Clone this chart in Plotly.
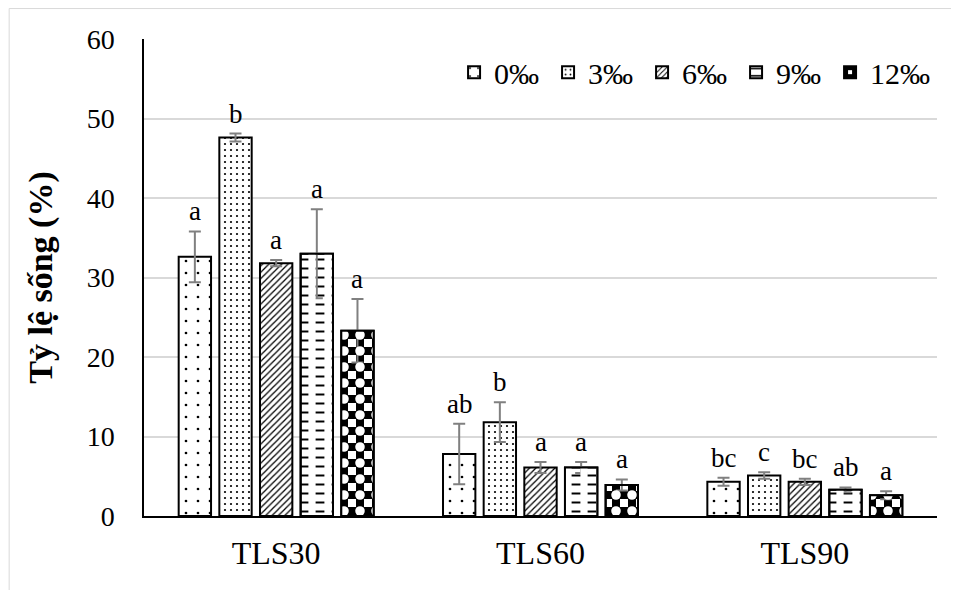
import plotly.graph_objects as go

categories = ["TLS30", "TLS60", "TLS90"]
series_names = ["0‰", "3‰", "6‰", "9‰", "12‰"]

mean_0 = [32.6, 7.8, 4.3]
mean_3 = [47.6, 11.8, 5.1]
mean_6 = [31.8, 6.1, 4.3]
mean_9 = [33.0, 6.1, 3.3]
mean_12 = [23.3, 3.9, 2.6]

err_0 = [3.2, 3.8, 0.5]
err_3 = [0.5, 2.5, 0.4]
err_6 = [0.4, 0.7, 0.4]
err_9 = [5.6, 0.7, 0.3]
err_12 = [4.0, 0.7, 0.5]

letters_0 = ["a", "ab", "bc"]
letters_3 = ["b", "b", "c"]
letters_6 = ["a", "a", "bc"]
letters_9 = ["a", "a", "ab"]
letters_12 = ["a", "a", "a"]

y_ticks = [0, 10, 20, 30, 40, 50, 60]

means = [mean_0, mean_3, mean_6, mean_9, mean_12]
errs = [err_0, err_3, err_6, err_9, err_12]
letters = [letters_0, letters_3, letters_6, letters_9, letters_12]

FONT = "Liberation Serif"
BARGAP = 0.231
BARGROUPGAP = 0.204

W, H = 951, 582
ML, MR, MT, MB = 135.5, 21.5, 31, 73.5
PW, PH = W - ML - MR, H - MT - MB

patterns = [
    dict(shape=".", size=12, solidity=0.04, fgcolor="black", bgcolor="white", fgopacity=1),
    dict(shape=".", size=6, solidity=0.11, fgcolor="black", bgcolor="white", fgopacity=1),
    dict(shape="/", size=4.5, solidity=0.28, fgcolor="black", bgcolor="white", fgopacity=1),
    dict(shape="-", size=9, solidity=0.22, fgcolor="black", bgcolor="white", fgopacity=1),
    dict(shape="+", size=16, solidity=0.75, fgcolor="black", bgcolor="white", fgopacity=1),
]
overlays = {
    3: dict(shape="|", size=16, solidity=0.45, fgcolor="white", bgcolor="rgba(0,0,0,0)", fgopacity=1),
    4: dict(shape=".", size=16, solidity=0.28, fgcolor="white", bgcolor="rgba(0,0,0,0)", fgopacity=1),
}
legend_widths = [49, 49, 49, 49, 64]

fig = go.Figure()
for i, name in enumerate(series_names):
    fig.add_trace(go.Bar(
        name=name, x=categories, y=means[i], offsetgroup=f"g{i}", legendwidth=legend_widths[i],
        marker=dict(color="white", line=dict(color="black", width=2), pattern=patterns[i]),
        error_y=dict(type="data", array=errs[i], visible=True, color="#808080",
                     thickness=2, width=6),
    ))
    if i in overlays:
        fig.add_trace(go.Bar(
            x=categories, y=means[i], offsetgroup=f"g{i}", showlegend=False, hoverinfo="skip",
            marker=dict(color="rgba(0,0,0,0)", line=dict(color="black", width=2),
                        pattern=overlays[i]),
        ))

slot = (1 - BARGAP) / len(series_names)
annotations = []
for i in range(len(series_names)):
    for j in range(len(categories)):
        annotations.append(dict(
            x=j + (i - 2) * slot, y=means[i][j] + errs[i][j], xref="x", yref="y",
            text=letters[i][j], showarrow=False, yanchor="bottom", yshift=3,
            font=dict(family=FONT, size=27, color="black"),
        ))

fig.update_layout(
    width=W, height=H,
    margin=dict(l=ML, r=MR, t=MT, b=MB, autoexpand=False),
    paper_bgcolor="white", plot_bgcolor="white",
    barmode="group", bargap=BARGAP, bargroupgap=BARGROUPGAP,
    font=dict(family=FONT, size=27, color="black"),
    annotations=annotations,
    legend=dict(orientation="h", x=0.391, xanchor="left", y=0.985, yanchor="top",
                font=dict(family=FONT, size=30, color="black"),
                bgcolor="rgba(0,0,0,0)", traceorder="normal", itemwidth=30,
                entrywidthmode="pixels"),
    shapes=[dict(type="rect", xref="paper", yref="paper",
                 x0=(0.5 - ML) / PW, x1=1.5, y0=-0.5, y1=1 + (MT - 0.5) / PH,
                 line=dict(color="#d9d9d9", width=1), fillcolor="rgba(0,0,0,0)", layer="below")],
    showlegend=True,
)
fig.update_xaxes(showline=True, linecolor="black", linewidth=1.5, showgrid=False,
                 tickfont=dict(family=FONT, size=32), ticks="", ticklabelstandoff=8)
fig.update_yaxes(range=[0, 60], tickvals=y_ticks, showline=True, linecolor="black", linewidth=1.5,
                 showgrid=True, gridcolor="#d9d9d9", gridwidth=1.5, zeroline=False,
                 tickfont=dict(family=FONT, size=28), ticks="", ticklabelstandoff=22,
                 title=dict(text="<b>Tỷ lệ sống (%)</b>", font=dict(family=FONT, size=34), standoff=24))

fig.write_html("out.html")
